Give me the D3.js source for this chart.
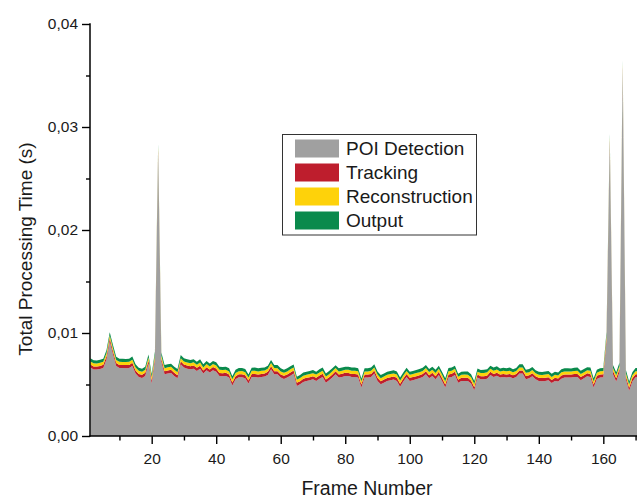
<!DOCTYPE html>
<html>
<head>
<meta charset="utf-8">
<script src="https://cdn.jsdelivr.net/npm/d3@7"></script>
<style>
  body { margin: 0; background: #fff; }
  svg text { font-family: "Liberation Sans", Arial, sans-serif; fill: #1a1a1a; }
</style>
</head>
<body>
<svg id="chart" width="637" height="498"></svg>
<script>
// frame numbers 1..171
var frames = d3.range(1, 172);

// POI detection time per frame (s)
var poiDetection = [
  0.00664, 0.00645, 0.00645, 0.0065, 0.0066, 0.00745, 0.00917, 0.00793, 0.0068, 0.0066,
  0.0066, 0.00658, 0.0066, 0.0068, 0.00606, 0.00573, 0.00564, 0.00583, 0.00703, 0.0051,
  0.0073, 0.0274, 0.0072, 0.00599, 0.00606, 0.00612, 0.00583, 0.0056, 0.00696, 0.00664,
  0.00654, 0.00648, 0.00654, 0.00632, 0.00654, 0.00606, 0.00638, 0.00616, 0.00638, 0.00625,
  0.00583, 0.0058, 0.00583, 0.00567, 0.0049, 0.00551, 0.0057, 0.0057, 0.0056, 0.00509,
  0.00573, 0.00573, 0.00567, 0.00573, 0.00577, 0.00593, 0.00648, 0.00599, 0.00599, 0.00567,
  0.00554, 0.00567, 0.00586, 0.00606, 0.00486, 0.00502, 0.00525, 0.00535, 0.00541, 0.00551,
  0.00535, 0.00557, 0.00573, 0.00518, 0.00541, 0.00567, 0.00599, 0.00567, 0.00573, 0.00583,
  0.00583, 0.00573, 0.00573, 0.00567, 0.0047, 0.00567, 0.00567, 0.00573, 0.00606, 0.00535,
  0.00502, 0.00518, 0.00535, 0.00541, 0.00548, 0.00535, 0.00477, 0.00528, 0.00573, 0.00535,
  0.00541, 0.00551, 0.0056, 0.00573, 0.00599, 0.0056, 0.00583, 0.00551, 0.00593, 0.00535,
  0.0047, 0.00567, 0.00573, 0.00593, 0.00518, 0.00535, 0.00535, 0.00535, 0.00509, 0.00444,
  0.00567, 0.00551, 0.00551, 0.00557, 0.00593, 0.00573, 0.00586, 0.00567, 0.00573, 0.00567,
  0.00573, 0.0056, 0.00573, 0.00606, 0.00606, 0.00551, 0.0056, 0.0058, 0.00551, 0.00535,
  0.00531, 0.00535, 0.00541, 0.00515, 0.00535, 0.00528, 0.00557, 0.00567, 0.00567, 0.00567,
  0.00573, 0.00573, 0.00541, 0.0056, 0.0058, 0.00573, 0.0047, 0.00554, 0.00567, 0.0057,
  0.0092, 0.0284, 0.0060, 0.0053, 0.0062, 0.0355, 0.0055, 0.0044, 0.0053, 0.0057, 0.0057
];

var tracking = [
  0.00030, 0.00030, 0.00029, 0.00030, 0.00031, 0.00030, 0.00031, 0.00030, 0.00029, 0.00030,
  0.00030, 0.00031, 0.00030, 0.00030, 0.00029, 0.00030, 0.00030, 0.00031, 0.00030, 0.00029,
  0.00030, 0.00032, 0.00030, 0.00029, 0.00030, 0.00030, 0.00031, 0.00030, 0.00030, 0.00029,
  0.00030, 0.00030, 0.00031, 0.00030, 0.00029, 0.00030, 0.00030, 0.00030, 0.00031, 0.00030,
  0.00029, 0.00030, 0.00030, 0.00031, 0.00030, 0.00030, 0.00029, 0.00030, 0.00030, 0.00031,
  0.00030, 0.00030, 0.00029, 0.00030, 0.00030, 0.00031, 0.00030, 0.00030, 0.00029, 0.00030,
  0.00031, 0.00030, 0.00030, 0.00029, 0.00030, 0.00030, 0.00031, 0.00030, 0.00030, 0.00029,
  0.00030, 0.00030, 0.00031, 0.00030, 0.00029, 0.00030, 0.00030, 0.00030, 0.00031, 0.00030,
  0.00029, 0.00030, 0.00030, 0.00031, 0.00030, 0.00030, 0.00029, 0.00030, 0.00030, 0.00031,
  0.00030, 0.00030, 0.00029, 0.00030, 0.00030, 0.00031, 0.00030, 0.00030, 0.00029, 0.00030,
  0.00031, 0.00030, 0.00030, 0.00029, 0.00030, 0.00030, 0.00031, 0.00030, 0.00030, 0.00029,
  0.00030, 0.00030, 0.00031, 0.00030, 0.00029, 0.00030, 0.00030, 0.00030, 0.00031, 0.00030,
  0.00029, 0.00030, 0.00030, 0.00031, 0.00030, 0.00030, 0.00029, 0.00030, 0.00030, 0.00031,
  0.00030, 0.00030, 0.00029, 0.00030, 0.00030, 0.00031, 0.00030, 0.00030, 0.00029, 0.00030,
  0.00031, 0.00030, 0.00030, 0.00029, 0.00030, 0.00030, 0.00031, 0.00030, 0.00030, 0.00029,
  0.00030, 0.00030, 0.00031, 0.00030, 0.00029, 0.00030, 0.00030, 0.00030, 0.00031, 0.00030,
  0.00030, 0.00031, 0.00030, 0.00030, 0.00030, 0.00032, 0.00030, 0.00029, 0.00030, 0.00030, 0.00030
];

var reconstruction = [
  0.00030, 0.00031, 0.00030, 0.00030, 0.00029, 0.00030, 0.00031, 0.00030, 0.00030, 0.00030,
  0.00029, 0.00030, 0.00030, 0.00031, 0.00030, 0.00030, 0.00030, 0.00029, 0.00030, 0.00031,
  0.00030, 0.00031, 0.00030, 0.00030, 0.00031, 0.00030, 0.00029, 0.00030, 0.00030, 0.00031,
  0.00030, 0.00029, 0.00030, 0.00030, 0.00031, 0.00030, 0.00030, 0.00029, 0.00030, 0.00030,
  0.00031, 0.00030, 0.00030, 0.00029, 0.00030, 0.00031, 0.00030, 0.00030, 0.00030, 0.00029,
  0.00030, 0.00031, 0.00030, 0.00030, 0.00029, 0.00030, 0.00031, 0.00030, 0.00030, 0.00030,
  0.00029, 0.00030, 0.00031, 0.00030, 0.00030, 0.00031, 0.00030, 0.00029, 0.00030, 0.00030,
  0.00031, 0.00030, 0.00029, 0.00030, 0.00030, 0.00031, 0.00030, 0.00030, 0.00029, 0.00030,
  0.00030, 0.00031, 0.00030, 0.00030, 0.00029, 0.00030, 0.00031, 0.00030, 0.00030, 0.00030,
  0.00029, 0.00030, 0.00031, 0.00030, 0.00030, 0.00031, 0.00030, 0.00029, 0.00030, 0.00030,
  0.00031, 0.00030, 0.00029, 0.00030, 0.00030, 0.00031, 0.00030, 0.00030, 0.00029, 0.00030,
  0.00030, 0.00031, 0.00030, 0.00030, 0.00029, 0.00030, 0.00031, 0.00030, 0.00030, 0.00030,
  0.00029, 0.00030, 0.00031, 0.00030, 0.00030, 0.00031, 0.00030, 0.00029, 0.00030, 0.00030,
  0.00031, 0.00030, 0.00029, 0.00030, 0.00030, 0.00031, 0.00030, 0.00030, 0.00029, 0.00030,
  0.00030, 0.00031, 0.00030, 0.00030, 0.00029, 0.00030, 0.00031, 0.00030, 0.00030, 0.00030,
  0.00029, 0.00030, 0.00031, 0.00030, 0.00030, 0.00031, 0.00030, 0.00029, 0.00030, 0.00030,
  0.00031, 0.00030, 0.00030, 0.00029, 0.00030, 0.00031, 0.00030, 0.00030, 0.00030, 0.00029, 0.00030
];

var output = [
  0.00031, 0.00030, 0.00030, 0.00031, 0.00030, 0.00030, 0.00029, 0.00030, 0.00031, 0.00030,
  0.00030, 0.00029, 0.00030, 0.00030, 0.00031, 0.00030, 0.00030, 0.00030, 0.00029, 0.00030,
  0.00031, 0.00030, 0.00030, 0.00031, 0.00030, 0.00029, 0.00030, 0.00030, 0.00031, 0.00030,
  0.00030, 0.00031, 0.00030, 0.00029, 0.00030, 0.00030, 0.00031, 0.00030, 0.00030, 0.00030,
  0.00030, 0.00029, 0.00030, 0.00031, 0.00030, 0.00030, 0.00030, 0.00031, 0.00030, 0.00029,
  0.00030, 0.00030, 0.00031, 0.00030, 0.00030, 0.00029, 0.00030, 0.00030, 0.00031, 0.00030,
  0.00030, 0.00031, 0.00030, 0.00030, 0.00029, 0.00030, 0.00030, 0.00031, 0.00030, 0.00030,
  0.00029, 0.00030, 0.00031, 0.00030, 0.00030, 0.00030, 0.00029, 0.00030, 0.00031, 0.00030,
  0.00030, 0.00030, 0.00031, 0.00029, 0.00030, 0.00030, 0.00030, 0.00031, 0.00030, 0.00030,
  0.00031, 0.00030, 0.00030, 0.00029, 0.00030, 0.00030, 0.00031, 0.00030, 0.00030, 0.00030,
  0.00029, 0.00030, 0.00031, 0.00030, 0.00030, 0.00030, 0.00029, 0.00031, 0.00030, 0.00030,
  0.00030, 0.00031, 0.00030, 0.00030, 0.00029, 0.00030, 0.00030, 0.00031, 0.00030, 0.00030,
  0.00031, 0.00030, 0.00030, 0.00029, 0.00030, 0.00030, 0.00031, 0.00030, 0.00030, 0.00030,
  0.00030, 0.00029, 0.00030, 0.00031, 0.00030, 0.00030, 0.00030, 0.00031, 0.00030, 0.00029,
  0.00030, 0.00030, 0.00031, 0.00030, 0.00030, 0.00029, 0.00030, 0.00030, 0.00031, 0.00030,
  0.00030, 0.00031, 0.00030, 0.00030, 0.00029, 0.00030, 0.00030, 0.00031, 0.00030, 0.00030,
  0.00030, 0.00031, 0.00030, 0.00030, 0.00030, 0.00031, 0.00030, 0.00029, 0.00030, 0.00030, 0.00030
];

var seriesNames = ["POI Detection", "Tracking", "Reconstruction", "Output"];
var seriesColors = ["#a0a0a0", "#be1e2d", "#fed20a", "#0a8a4c"];

var xMajorTicks = [20, 40, 60, 80, 100, 120, 140, 160];
var xMinorTicks = [10, 30, 50, 70, 90, 110, 130, 150, 170];
var yMajorTicks = [0, 0.01, 0.02, 0.03, 0.04];
var yMinorTicks = [0.005, 0.015, 0.025, 0.035];

var svg = d3.select("#chart");

var x = d3.scaleLinear().domain([1, 171]).range([90.4, 638.8]);
var y = d3.scaleLinear().domain([0, 0.04]).range([436, 24]);

var rows = frames.map(function (f, i) {
	return {
		frame: f,
		"POI Detection": poiDetection[i],
		"Tracking": tracking[i],
		"Reconstruction": reconstruction[i],
		"Output": output[i]
	};
});

var stacked = d3.stack().keys(seriesNames)(rows);

var area = d3.area()
	.x(function (d) { return x(d.data.frame); })
	.y0(function (d) { return y(d[0]); })
	.y1(function (d) { return y(d[1]); });

svg.append("g").selectAll("path")
	.data(stacked)
	.enter()
	.append("path")
	.attr("d", area)
	.attr("fill", function (d, i) { return seriesColors[i]; });

// axes
var fmtY = function (d) { return d3.format(".2f")(d).replace(".", ","); };

svg.append("g")
	.attr("transform", "translate(0,436)")
	.call(d3.axisBottom(x).tickValues(xMinorTicks).tickSize(4.5).tickFormat(""))
	.call(function (g) { g.select(".domain").remove(); });

var gx = svg.append("g")
	.attr("transform", "translate(0,436)")
	.call(d3.axisBottom(x).tickValues(xMajorTicks).tickSize(8).tickPadding(9).tickFormat(d3.format("d")));
gx.select(".domain").remove();

svg.append("g")
	.attr("transform", "translate(90,0)")
	.call(d3.axisLeft(y).tickValues(yMinorTicks).tickSize(4).tickFormat(""))
	.call(function (g) { g.select(".domain").remove(); });

var gy = svg.append("g")
	.attr("transform", "translate(90,0)")
	.call(d3.axisLeft(y).tickValues(yMajorTicks).tickSize(8).tickPadding(4).tickFormat(fmtY));
gy.select(".domain").remove();

svg.selectAll(".tick line").attr("stroke", "#000").attr("stroke-width", 1.4);
svg.selectAll(".tick text").style("font-size", "15.5px").attr("fill", "#222");

svg.append("line").attr("x1", 89.3).attr("x2", 637).attr("y1", 436).attr("y2", 436)
	.attr("stroke", "#000").attr("stroke-width", 1.5);
svg.append("line").attr("x1", 90).attr("x2", 90).attr("y1", 23.3).attr("y2", 436.7)
	.attr("stroke", "#000").attr("stroke-width", 1.5);

// axis titles
svg.append("text")
	.attr("x", 367).attr("y", 495)
	.attr("text-anchor", "middle")
	.style("font-size", "19.5px")
	.text("Frame Number");

svg.append("text")
	.attr("transform", "translate(32,249) rotate(-90)")
	.attr("text-anchor", "middle")
	.style("font-size", "19px")
	.text("Total Processing Time (s)");

// legend
var legend = svg.append("g");
legend.append("rect")
	.attr("x", 282.5).attr("y", 134.5).attr("width", 194).attr("height", 100.5)
	.attr("fill", "#fff").attr("stroke", "#333").attr("stroke-width", 1);

var items = legend.selectAll(".item")
	.data(seriesNames)
	.enter()
	.append("g")
	.attr("transform", function (d, i) { return "translate(295," + (139.5 + i * 24) + ")"; });

items.append("rect")
	.attr("width", 44).attr("height", 18)
	.attr("fill", function (d, i) { return seriesColors[i]; });

items.append("text")
	.attr("x", 51).attr("y", 15.5)
	.style("font-size", "19px")
	.text(function (d) { return d; });
</script>
</body>
</html>
